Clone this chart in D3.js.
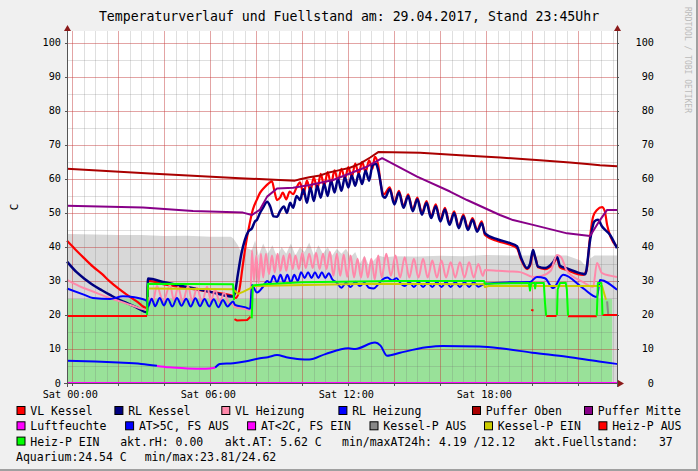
<!DOCTYPE html>
<html><head><meta charset="utf-8">
<script src="https://cdn.jsdelivr.net/npm/d3@7/dist/d3.min.js"></script>
<style>body{margin:0;background:#f0f0f0}svg{display:block}text{font-family:"DejaVu Sans Mono",monospace}</style>
</head><body><svg id="c" width="698" height="471"></svg>
<script>
// time in hours relative to Sat 00:00
const xDomain = [-0.23, 23.68];
const yDomain = [0, 103.5];
const xTickHours = [0, 6, 12, 18];
const xTickLabels = ["Sat 00:00", "Sat 06:00", "Sat 12:00", "Sat 18:00"];
const yTickValues = [0,10,20,30,40,50,60,70,80,90,100];

const greyArea = [[-0.23,43.8],[1,43.7],[2,43.5],[3,43.5],[4,43.2],[5,43.3],[6,43.0],[6.9,43.0],[7.0,42.5],[7.2,40.5],[7.3,39],[7.5,40],[7.8,39],[7.95,42],[8.1,37.5],[8.3,41],[8.5,38],[8.7,40.5],[8.9,37],[9.1,40],[9.3,38],[9.5,41],[9.7,37.5],[9.9,40],[10.1,38.5],[10.3,41.3],[10.5,37.5],[10.7,40.5],[10.9,38],[11.1,40],[11.3,37.5],[11.5,39.5],[11.7,38],[11.9,39.5],[12.1,37],[12.3,38.5],[12.5,35],[12.7,37.5],[12.9,34.5],[13.1,36],[13.3,37.5],[13.6,37],[14,37.3],[15,37.2],[16,37.4],[17,37.3],[18,37.6],[19,37.5],[20,37.5],[21.5,37.5],[22.1,36],[22.3,34.5],[22.5,36.5],[22.7,37.5],[23.68,37.5]];
const greenArea = [[-0.23,24.7],[23.47,24.7]];

const vlKessel = [[-0.23,41.8],[0.1,39.5],[0.5,36.8],[0.9,34.2],[1.3,32.0],[1.64,29.8],[2.0,27.8],[2.38,25.9],[2.8,24.0],[3.25,22.0],[3.29,30.0],[4.0,29.0],[5.0,27.9],[6.0,26.8],[6.99,25.6],[7.1,25.0],[7.25,27.0],[7.4,34.0],[7.55,41.0],[7.7,46.5],[7.85,51.0],[8.03,54.0],[8.16,55.9],[8.35,57.5],[8.55,58.8],[8.68,59.3],[8.8,56.0],[8.9,53.8],[9.03,54.5],[9.15,56.0],[9.3,54.0],[9.45,56.3],[9.6,55.5],[9.75,57.5],[9.9,59.0],[10.05,55.5],[10.2,59.5],[10.35,56.5],[10.5,60.5],[10.65,57.0],[10.8,61.5],[10.95,58.0],[11.1,62.0],[11.25,58.5],[11.4,62.5],[11.55,59.5],[11.7,63.0],[11.85,60.0],[12.0,63.5],[12.15,60.5],[12.3,64.5],[12.45,61.5],[12.6,65.0],[12.75,62.0],[12.9,65.5],[13.05,63.0],[13.15,66.5],[13.3,64.0],[13.42,58],[13.55,55.5],[13.8,57.5],[14.0,53.0],[14.2,56.5],[14.4,52.0],[14.6,55.5],[14.8,51.0],[15.0,54.5],[15.2,50.0],[15.4,53.5],[15.6,49.0],[15.8,52.5],[16.0,48.0],[16.2,51.5],[16.4,47.0],[16.6,50.5],[16.8,46.0],[17.0,49.5],[17.2,45.5],[17.4,48.5],[17.6,45.0],[17.8,47.5],[17.94,43.5],[18.5,41.7],[19.0,40.7],[19.33,39.6],[19.5,36.5],[19.77,33.5],[19.9,34.5],[20.03,38.2],[20.15,36.5],[20.25,34.0],[20.55,33.5],[20.9,35.0],[21.07,36.6],[21.2,34.0],[21.51,33.2],[22.2,31.8],[22.35,33],[22.51,43],[22.64,48.9],[22.81,50.9],[23.03,51.7],[23.15,50.5],[23.25,46.5],[23.4,43.0],[23.68,40.1]];

const rlKessel = [[-0.23,35.7],[0.2,32.5],[0.6,30.3],[0.9,28.8],[1.3,27.2],[1.64,25.9],[2.0,24.6],[2.38,23.5],[2.8,22.2],[3.25,20.8],[3.29,30.7],[4.0,29.6],[5.0,28.2],[6.0,26.8],[6.99,25.4],[7.07,26.5],[7.2,32.0],[7.35,38.0],[7.5,42.0],[7.65,44.5],[7.81,45.5],[7.94,47.5],[8.03,48.0],[8.16,50.0],[8.29,51.5],[8.47,53.3],[8.6,52.0],[8.75,49.0],[8.9,48.9],[9.03,50.5],[9.2,51.9],[9.33,50.0],[9.47,53.0],[9.6,51.5],[9.75,55.0],[9.9,53.8],[10.05,57.0],[10.2,53.0],[10.35,57.5],[10.5,53.5],[10.65,58.0],[10.8,54.5],[10.95,58.5],[11.1,55.0],[11.25,59.5],[11.4,56.0],[11.55,60.0],[11.7,56.5],[11.85,60.5],[12.0,57.5],[12.15,61.0],[12.3,58.0],[12.45,61.5],[12.6,58.5],[12.75,62.5],[12.9,59.5],[13.05,64.0],[13.2,64.5],[13.3,62.5],[13.4,59],[13.5,55.0],[13.6,54.5],[13.8,57.0],[14.0,52.5],[14.2,56.0],[14.4,51.5],[14.6,55.0],[14.8,50.5],[15.0,54.0],[15.2,49.5],[15.4,53.0],[15.6,48.5],[15.8,52.0],[16.0,47.5],[16.2,51.0],[16.4,46.5],[16.6,50.0],[16.8,45.5],[17.0,49.0],[17.2,45.0],[17.4,48.0],[17.6,44.5],[17.8,47.0],[17.94,44.0],[18.5,42.2],[19.0,41.2],[19.33,40.2],[19.5,37.0],[19.77,33.8],[19.9,35.0],[20.03,39.1],[20.12,37.0],[20.25,34.2],[20.55,33.8],[20.9,35.5],[21.07,37.1],[21.2,34.5],[21.51,33.7],[22.2,32.1],[22.3,32.0],[22.51,42.0],[22.7,47.5],[22.85,48.0],[23.03,46.0],[23.38,43.5],[23.68,39.6]];

const vlHeizung = [[-0.23,30.3],[0.3,28.5],[0.9,26.9],[1.5,25.3],[2.07,24.0],[2.6,22.8],[3.25,21.5],[3.3,25],[3.5,24],[3.68,28.5],[3.95,24],[4.25,28.8],[4.42,24.2],[4.6,28.2],[4.8,23.8],[5.03,28.5],[5.22,24],[5.42,28],[5.64,23.8],[5.86,28.3],[6.03,24.2],[6.21,27.5],[6.4,23.8],[6.6,26.5],[6.8,23.5],[6.99,23],[7.07,22.3],[7.5,21.8],[7.73,21.5],[7.81,39],[7.9,30],[8.0,37.5],[8.1,29.5],[8.2,38],[8.3,31],[8.42,38],[8.55,32],[8.68,37.5],[8.8,32.5],[8.92,38],[9.05,33],[9.18,37.5],[9.3,33],[9.45,38],[9.58,33.5],[9.7,37.5],[9.85,33.5],[10.0,38.2],[10.15,33.8],[10.3,38],[10.45,33.8],[10.6,38.2],[10.75,33.5],[10.9,38],[11.05,33.5],[11.2,38.5],[11.35,31.5],[11.5,38],[11.65,31.5],[11.8,37.8],[11.95,31.2],[12.1,37.5],[12.25,31],[12.4,36.5],[12.55,31],[12.7,37],[12.85,31],[13.0,36.5],[13.15,30.5],[13.3,37.5],[13.45,31],[13.65,38],[13.85,31.5],[14.05,37.5],[14.25,31],[14.45,37],[14.65,31],[14.85,36.5],[15.05,31],[15.25,36.5],[15.45,31],[15.65,36],[15.85,31],[16.05,36],[16.25,31],[16.45,35.5],[16.65,31],[16.85,35.5],[17.05,31],[17.25,35.5],[17.45,31],[17.65,35],[17.85,31.5],[17.94,33.2],[18.5,33],[19.0,32.8],[19.47,32.6],[20.03,31.2],[20.4,31.5],[20.8,33],[21.07,37.6],[21.25,37],[21.5,33],[22.2,29.7],[22.64,28.2],[22.81,35.3],[23.03,32.3],[23.68,31.2]];

const rlHeizung = [[-0.23,27.8],[0.5,26],[0.9,25],[1.64,24.7],[2.2,25.5],[2.7,25.2],[3.25,24.1],[3.29,22.4],[3.45,24.8],[3.6,22.6],[3.8,25],[3.98,22.8],[4.15,24.8],[4.35,22.5],[4.55,25],[4.75,22.7],[4.95,24.8],[5.15,22.5],[5.35,24.9],[5.55,22.6],[5.75,24.7],[5.95,22.5],[6.15,24.6],[6.35,22.3],[6.55,24.4],[6.75,22.5],[6.99,24],[7.07,23],[7.5,22.3],[7.73,21.8],[7.81,28.8],[8.03,26.6],[8.29,28.3],[8.47,30],[8.6,29.4],[8.75,31.5],[8.9,29.5],[9.05,31.8],[9.2,29.6],[9.35,31.8],[9.5,29.5],[9.65,31.8],[9.8,30],[9.95,32.6],[10.1,30.9],[10.25,32.6],[10.4,30.9],[10.55,32.6],[10.7,30.9],[10.85,32.6],[11.0,30.9],[11.15,32.3],[11.3,30.5],[11.5,29.5],[11.7,28],[11.9,29.5],[12.1,28.2],[12.3,29.8],[12.5,28.5],[12.7,29.5],[12.9,28],[13.1,27.8],[13.3,29],[13.5,30.5],[13.7,31],[13.9,30.2],[14.1,30.8],[14.25,29.5],[14.45,28.5],[14.65,29.7],[14.85,28.2],[15.05,29.7],[15.25,28.2],[15.45,29.7],[15.65,28.2],[15.85,29.7],[16.05,28.2],[16.25,29.7],[16.45,28.2],[16.65,29.7],[16.85,28.2],[17.05,29.7],[17.25,28.2],[17.45,29.7],[17.65,28.3],[17.94,29.2],[19.0,29.6],[19.9,29.7],[20.2,31.2],[20.55,30.8],[20.9,27.9],[21.34,31.8],[22.2,27.9],[22.81,25.3],[22.94,30.3],[23.68,27.4]];

const pufferOben = [[-0.23,63.0],[3.38,61.6],[7.29,60.2],[9.68,59.5],[9.9,59.9],[10.3,60.5],[10.77,61.0],[11.1,61.8],[11.43,62.3],[12.07,63.3],[12.51,64.5],[12.95,66.3],[13.3,67.9],[15.12,67.7],[16.86,67.0],[18.6,66.3],[20.33,65.5],[21.63,64.8],[22.5,64.3],[22.94,64.0],[23.68,63.7]];
const pufferMitte = [[-0.23,52.1],[3.07,51.6],[5.25,50.6],[7.42,50.1],[7.81,49.4],[8.16,51],[8.47,54.8],[8.9,57.2],[9.6,57.4],[10.33,58.2],[11.34,59.7],[12.81,63.6],[13.47,66.1],[14.99,60.7],[16.42,56.3],[17.16,53.8],[18.59,49.4],[19.16,47.9],[20.03,46.5],[21.51,44.0],[22.51,43.2],[22.94,47.9],[23.25,50.9],[23.68,50.9]];
const luftfeuchte = [[-0.23,0],[23.68,0]];
const atHigh = [[-0.23,6.55],[1,6.3],[2,6.0],[3,5.6],[3.68,5.1],[3.7,null],[6.2,null],[6.21,4.5],[6.42,5.6],[7,5.8],[7.5,6.3],[8.16,7.3],[8.5,7.6],[8.9,8.2],[9.3,7.6],[9.9,7.0],[10.3,6.9],[11,8.5],[12,10.2],[12.3,10.0],[13.16,11.9],[13.4,11.0],[13.68,8.0],[14.25,8.9],[15.4,10.5],[16.1,10.9],[17.7,10.7],[18.6,10.2],[20.0,8.9],[21.5,7.7],[22.9,6.3],[23.68,5.6]];
const atLow = [[3.68,5.0],[4.2,4.6],[5,4.3],[5.8,4.2],[6.21,4.5]];
const kesselPAus = [[-0.23,19.7],[3.25,19.7],[3.3,null],[23.2,null],[23.25,24],[23.3,20],[23.68,20]];
const kesselPEin = [[3.29,27.8],[6.99,27.6],[7.05,27.2],[7.2,26.2],[7.42,26.8],[7.73,27.8],[7.85,28.5],[9,28.7],[13,29.2],[17.9,29.0],[17.94,28.2],[18.1,28.5],[23.03,28.5],[23.2,24.5]];
const heizPAus = [[-0.23,19.7],[3.25,19.7],[3.3,null],[7.0,null],[7.05,18.8],[7.15,18.4],[7.6,18.5],[7.75,19.5],[7.8,null],[19.9,null],[19.95,21.5],[20.05,21.3],[20.1,null],[20.5,null],[20.6,19.7],[21.05,19.7],[21.1,null],[21.5,null],[21.55,19.6],[22.8,19.6],[22.85,null],[23.0,null],[23.05,20],[23.68,20]];
const heizPEin = [[3.25,20],[3.29,29.2],[6.99,29],[7.03,24.4],[7.05,null],[7.78,null],[7.8,19],[7.85,28.7],[8.3,29],[10,29.6],[14,30.0],[17.9,30.0],[17.94,29.2],[19.85,29.4],[19.9,27.2],[19.95,29.4],[20.1,29.4],[20.12,27.8],[20.15,29.4],[20.5,29.4],[20.55,23.5],[20.6,19.8],[20.65,null],[21.0,null],[21.07,20],[21.1,27.5],[21.2,29.4],[21.45,29.5],[21.5,27.5],[21.55,19.8],[21.6,null],[22.75,null],[22.8,19.8],[22.85,29.4],[23.0,29.4],[23.05,20]];

const legendNames = [["VL Kessel","RL Kessel","VL Heizung","RL Heizung","Puffer Oben","Puffer Mitte"],["Luftfeuchte","AT>5C, FS AUS","AT<2C, FS EIN","Kessel-P AUS","Kessel-P EIN","Heiz-P AUS"],["Heiz-P EIN"]];
const legendColors = [["#ff0000","#000080","#ff88aa","#0000ff","#aa0000","#880088"],["#ff00ff","#0000ff","#ff00ff","#888888","#cccc00","#ff0000"],["#00ff00"]];
const infoTexts3 = ["akt.rH: 0.00","akt.AT: 5.62 C","min/maxAT24h: 4.19 /12.12","akt.Fuellstand:   37"];
const infoTexts4 = ["Aquarium:24.54 C","min/max:23.81/24.62"];
const titleText = "Temperaturverlauf und Fuellstand am: 29.04.2017, Stand 23:45Uhr";

const svg = d3.select("#c");
const W=698,H=471;
const L=67,R=617,T=31,B=383;
const x = d3.scaleLinear().domain(xDomain).range([L,R]);
const y = d3.scaleLinear().domain(yDomain).range([B,T]);

svg.append("rect").attr("width",W).attr("height",H).attr("fill","#f0f0f0");
svg.append("rect").attr("x",W-2).attr("y",0).attr("width",2).attr("height",H).attr("fill","#a0a0a0");
svg.append("rect").attr("x",0).attr("y",H-2).attr("width",W).attr("height",2).attr("fill","#a0a0a0");
svg.append("rect").attr("x",L).attr("y",T).attr("width",R-L).attr("height",B-T).attr("fill","#ffffff");

const g = svg.append("g");
const area = d3.area().x(d=>x(d[0])).y0(y(0)).y1(d=>y(d[1]));
g.append("path").datum(greyArea).attr("d",area).attr("fill","#d8d8d8");
g.append("path").datum(greenArea).attr("d",area).attr("fill","#99e199");

// grid
const minorX = d3.range(0, 24, 0.5).filter(h=>h>=xDomain[0]&&h<=xDomain[1]);
const majorX = d3.range(0, 24, 2);
const minorY = d3.range(5, 105, 5);
const majorY = d3.range(10, 105, 10);
const grid = svg.append("g");
minorX.forEach(h=>{const px=Math.round(x(h))+0.5;grid.append("line").attr("x1",px).attr("x2",px).attr("y1",T).attr("y2",B).attr("stroke","rgba(110,110,110,0.22)");});
minorY.forEach(v=>{const py=Math.round(y(v))+0.5;grid.append("line").attr("x1",L).attr("x2",R).attr("y1",py).attr("y2",py).attr("stroke","rgba(110,110,110,0.22)");});
majorX.forEach(h=>{const px=Math.round(x(h))+0.5;grid.append("line").attr("x1",px).attr("x2",px).attr("y1",T).attr("y2",B).attr("stroke","rgba(235,40,40,0.32)");});
majorY.forEach(v=>{const py=Math.round(y(v))+0.5;grid.append("line").attr("x1",L).attr("x2",R).attr("y1",py).attr("y2",py).attr("stroke","rgba(235,40,40,0.32)");});

const line = d3.line().defined(d=>d[1]!==null).x(d=>x(d[0])).y(d=>y(d[1]));
const smooth = d3.line().defined(d=>d[1]!==null).x(d=>x(d[0])).y(d=>y(d[1])).curve(d3.curveMonotoneX);
function draw(data,color,w,gen){svg.append("path").datum(data).attr("d",gen||line).attr("fill","none").attr("stroke",color).attr("stroke-width",w||2).attr("stroke-linejoin","round");}
draw(vlKessel,"#ff0000",2.2,smooth);
draw(rlKessel,"#000080",2.5,smooth);
draw(vlHeizung,"#ff88aa",2,smooth);
draw(rlHeizung,"#0000ff",2,smooth);
draw(pufferOben,"#aa0000",2);
draw(pufferMitte,"#880088",2);
draw(luftfeuchte,"#ff00ff",2);
draw(atHigh,"#0000ff",2,smooth);
draw(atLow,"#ff00ff",2,smooth);
draw(kesselPAus,"#888888",2);
draw(kesselPEin,"#cccc00",2);
draw(heizPAus,"#ff0000",2);
draw(heizPEin,"#00ff00",2);

// axes
const ax = svg.append("g");
ax.append("line").attr("x1",L+0.5).attr("x2",L+0.5).attr("y1",T-4).attr("y2",B+4).attr("stroke","#555");
ax.append("line").attr("x1",R+0.5).attr("x2",R+0.5).attr("y1",T-4).attr("y2",B+4).attr("stroke","#555");
ax.append("line").attr("x1",L-3).attr("x2",R+2).attr("y1",B+0.5).attr("y2",B+0.5).attr("stroke","#555");
majorX.forEach(h=>{const px=Math.round(x(h))+0.5;ax.append("line").attr("x1",px).attr("x2",px).attr("y1",B).attr("y2",B+3).attr("stroke","#555");});
yTickValues.forEach(v=>{const py=Math.round(y(v))+0.5;ax.append("line").attr("x1",L-2).attr("x2",L).attr("y1",py).attr("y2",py).attr("stroke","#555");ax.append("line").attr("x1",R).attr("x2",R+2).attr("y1",py).attr("y2",py).attr("stroke","#555");});
const arrowC="#8b1a1a";
ax.append("path").attr("d",`M${L-3},${T}L${L+0.5},${T-6}L${L+4},${T}Z`).attr("fill",arrowC);
ax.append("path").attr("d",`M${R-3},${T}L${R+0.5},${T-6}L${R+4},${T}Z`).attr("fill",arrowC);
ax.append("path").attr("d",`M${R+1},${B-3}L${R+7},${B+0.5}L${R+1},${B+4}Z`).attr("fill",arrowC);

const fAxis = "10.2px";
yTickValues.forEach(v=>{
  ax.append("text").attr("x",61).attr("y",y(v)+3.5).attr("text-anchor","end").attr("font-size",fAxis).attr("fill","#000").text(v);
  ax.append("text").attr("x",654).attr("y",y(v)+3.5).attr("text-anchor","end").attr("font-size",fAxis).attr("fill","#000").text(v);
});
xTickHours.forEach((h,i)=>{
  ax.append("text").attr("x",x(h)-2).attr("y",398).attr("text-anchor","middle").attr("font-size",fAxis).attr("fill","#000").text(xTickLabels[i]);
});

svg.append("text").attr("x",349).attr("y",21).attr("text-anchor","middle").attr("font-size","13.2px").attr("fill","#000").text(titleText);
svg.append("text").attr("transform","translate(18,207) rotate(-90)").attr("text-anchor","middle").attr("font-size","11px").attr("fill","#000").text("C");
svg.append("text").attr("transform","translate(685,7) rotate(90)").attr("font-size","8px").attr("fill","#bbbbbb").text("RRDTOOL / TOBI OETIKER");

// legend
const legX = [[16.5,114.4,221.3,338.4,472,584],[16.5,125.1,247.1,369.5,484,598.4],[16.5]];
const rowY = [411,426.3,441.6,457];
const fLeg="11.5px";
legendNames.forEach((row,ri)=>{
  row.forEach((nm,ci)=>{
    const bx=legX[ri][ci];
    svg.append("rect").attr("x",bx+0.5).attr("y",rowY[ri]-4.5).attr("width",8).attr("height",8).attr("fill",legendColors[ri][ci]).attr("stroke","#000").attr("stroke-width",1);
    svg.append("text").attr("x",bx+13.8).attr("y",rowY[ri]+4).attr("font-size",fLeg).attr("fill","#000").text(nm);
  });
});
const info3X=[120.2,224.8,342,534.3];
infoTexts3.forEach((t,i)=>svg.append("text").attr("x",info3X[i]).attr("y",rowY[2]+4).attr("font-size",fLeg).attr("fill","#000").style("white-space","pre").text(t));
const info4X=[16,144.7];
infoTexts4.forEach((t,i)=>svg.append("text").attr("x",info4X[i]).attr("y",rowY[3]+4).attr("font-size",fLeg).attr("fill","#000").text(t));
</script></body></html>
